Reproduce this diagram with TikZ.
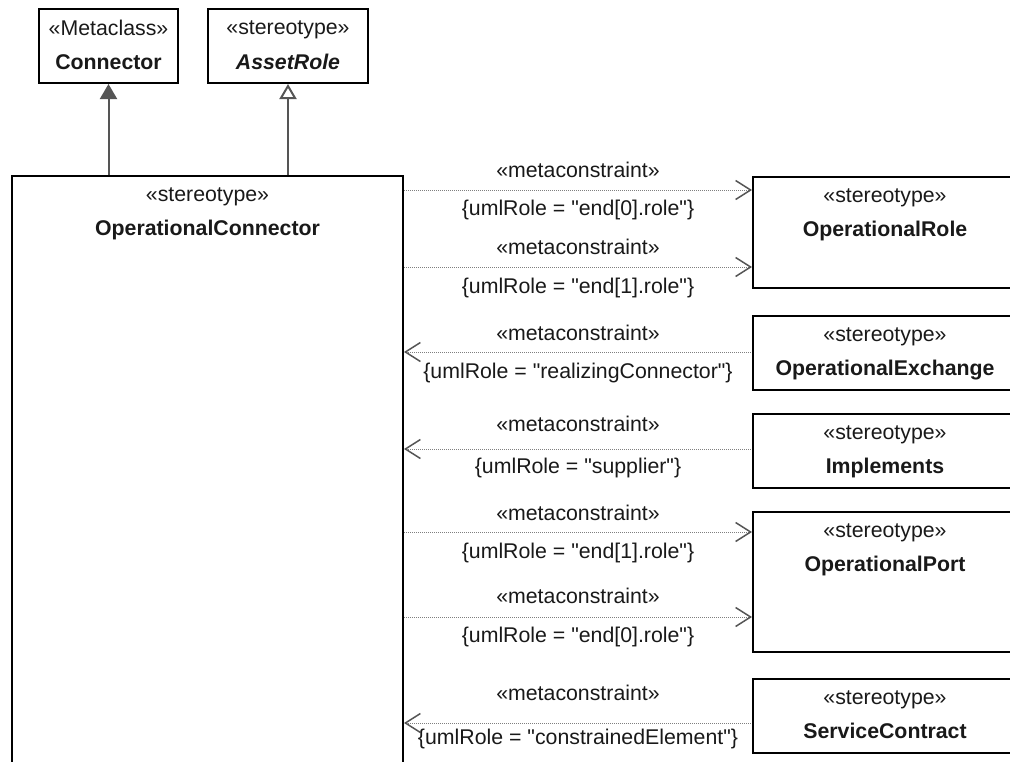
\documentclass[tikz,border=0pt]{standalone}
\usepackage{fontspec}
\setmainfont{Liberation Sans}[Ligatures=TeXOff]
\usepackage{xcolor}
\usepackage{tikz}
\usetikzlibrary{positioning, arrows.meta}

\definecolor{linegray}{HTML}{555555}
\definecolor{dotgray}{HTML}{7F7F7F}

\begin{document}
\begin{tikzpicture}[x=1pt, y=-1pt,
    every node/.style={font=\fontsize{21.3}{26}\selectfont, text=black!90, inner sep=0pt},
    umlbox/.style={draw, line width=2pt, rectangle, anchor=north west, inner sep=0pt},
    stereo/.style={anchor=base},
    title/.style={anchor=base, font=\fontsize{21.3}{26}\selectfont\bfseries},
    gen/.style={draw=linegray, line width=2pt, -{Triangle[length=15pt, width=17pt]}},
    realize/.style={draw=linegray, line width=2pt, -{Triangle[open, length=15pt, width=17pt, fill=white]}},
    meta/.style={draw=dotgray, line width=1pt, dash pattern=on 1pt off 1pt},
    metato/.style={meta, -{Straight Barb[length=15pt, width=19pt, line width=1.5pt, color=linegray]}},
    metafrom/.style={meta, {Straight Barb[length=15pt, width=19pt, line width=1.5pt, color=linegray]}-},
  ]
  \useasboundingbox (0,0) rectangle (1010,761);
  \clip (0,0) rectangle (1010,761);

  % metaclasses on top
  \node[umlbox, minimum width=139pt, minimum height=74pt] (metacls) at (38,8) {};
  \node[stereo] (metacls-st) at ([yshift=-27pt]metacls.north) {«Metaclass»};
  \node[title] (metacls-nm) at ([yshift=-61pt]metacls.north) {Connector};

  \node[umlbox, minimum width=160pt, minimum height=74pt] (asset) at (207,8) {};
  \node[stereo] (asset-st) at ([yshift=-26pt]asset.north) {«stereotype»};
  \node[title] (asset-nm) at ([yshift=-61pt]asset.north) {\itshape AssetRole};

  % the big stereotype
  \node[umlbox, minimum width=391pt, minimum height=640pt] (opconn) at (11,175) {};
  \node[stereo] (opconn-st) at ([yshift=-26pt]opconn.north) {«stereotype»};
  \node[title] (opconn-nm) at ([yshift=-60pt]opconn.north) {OperationalConnector};

  \draw[gen] (opconn.north -| metacls.south) -- (metacls.south);
  \draw[realize] (opconn.north -| asset.south) -- (asset.south);

  % stereotypes on the right
  \foreach \bx/\ytop/\hgt/\lbl in {role/176/111/OperationalRole, exch/315/74/OperationalExchange,
      impl/413/74/Implements, port/511/140/OperationalPort, contr/678/74/ServiceContract} {
    \node[umlbox, minimum width=264pt, minimum height=\hgt pt] (\bx) at (752,\ytop) {};
    \node[stereo] (\bx-st) at ([yshift=-26pt]\bx.north) {«stereotype»};
    \node[title] (\bx-nm) at ([yshift=-60pt]\bx.north) {\lbl};
  }

  % metaconstraints
  \foreach \y/\a/\b/\bx/\dir/\role in {
      190/170/210/role/metato/end[0].role,
      267/247/288/role/metato/end[1].role,
      352/333/373/exch/metafrom/realizingConnector,
      449/424/468/impl/metafrom/supplier,
      532/513/553/port/metato/end[1].role,
      617/596/637/port/metato/end[0].role,
      723/693/739/contr/metafrom/constrainedElement} {
    \draw[\dir] (opconn.east |- 0,\y) -- (\bx.west |- 0,\y)
      node[midway, anchor=base, yshift={(\y-\a-7)*1pt}] (mc\y) {«metaconstraint»}
      node[midway, anchor=base, yshift={(\y-\b-5.6)*1pt}] (role\y) {\{umlRole = "\role"\}};
  }
\end{tikzpicture}
\end{document}
